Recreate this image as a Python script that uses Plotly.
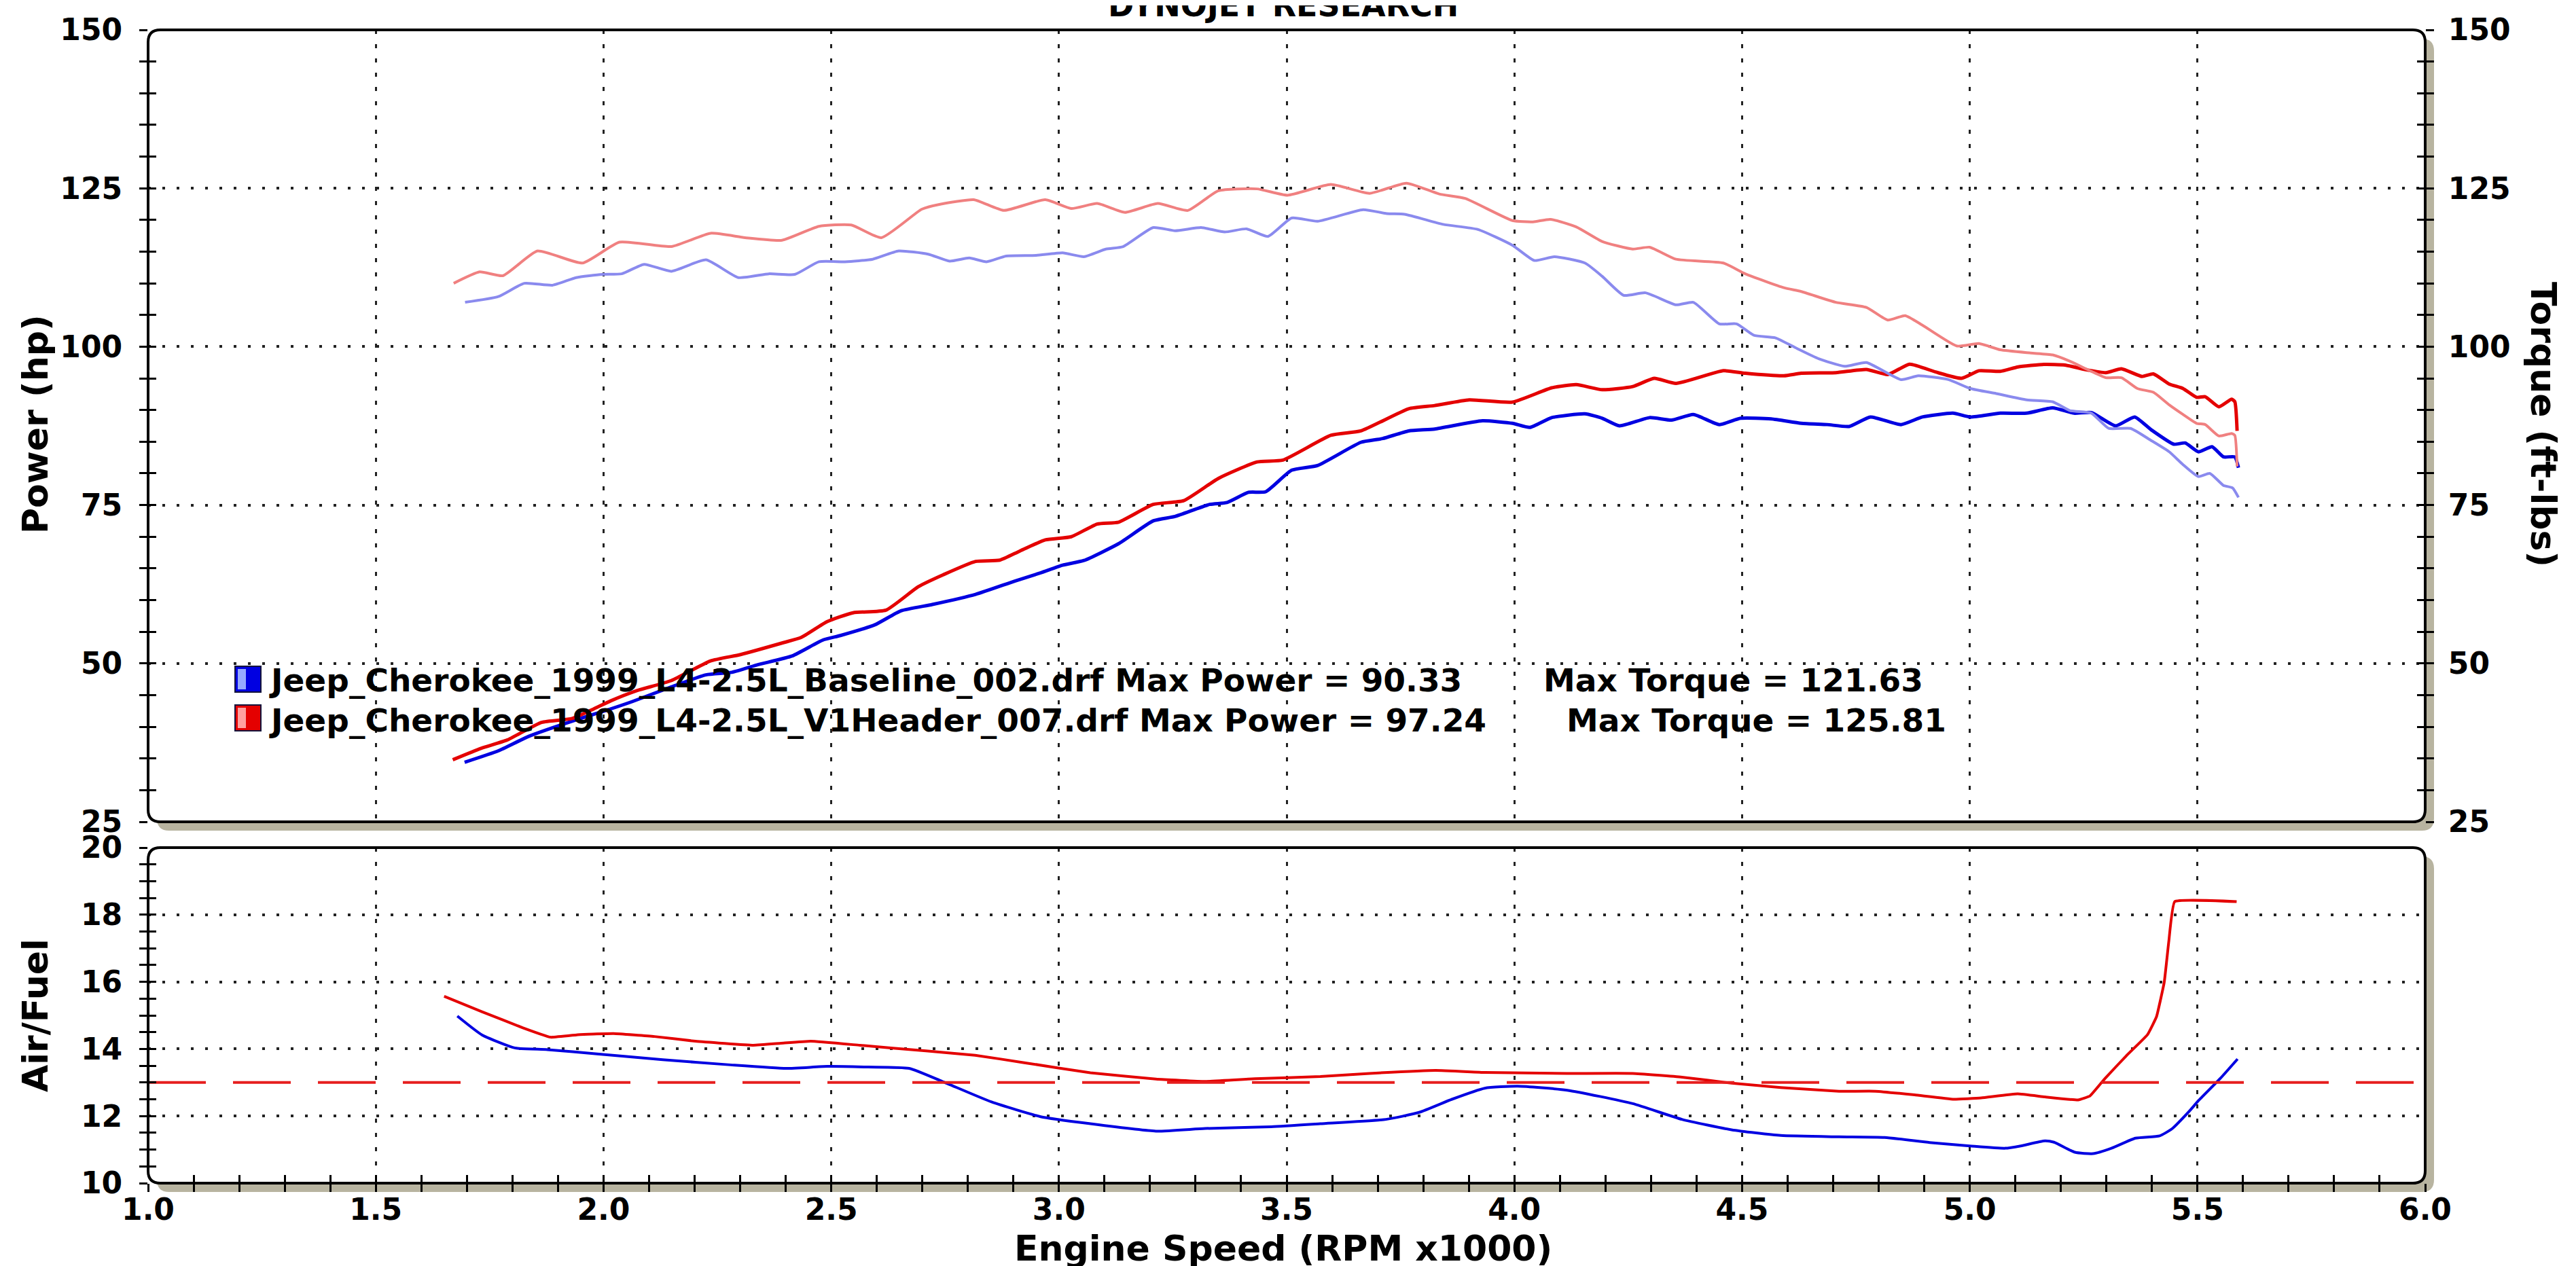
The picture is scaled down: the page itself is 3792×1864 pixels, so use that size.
import plotly.graph_objects as go

# ---------------- DATA ----------------
base_tq_rpm = [1.696, 1.769, 1.826, 1.888, 1.940, 1.997, 2.040, 2.089, 2.149, 2.225, 2.296, 2.363, 2.420,
               2.473, 2.530, 2.591, 2.648, 2.713, 2.760, 2.803, 2.841, 2.884, 2.950, 3.008, 3.055, 3.103,
               3.141, 3.207, 3.255, 3.312, 3.364, 3.412, 3.459, 3.511, 3.568, 3.668, 3.720, 3.759, 3.844,
               3.920, 3.996, 4.044, 4.088, 4.155, 4.193, 4.240, 4.288, 4.355, 4.393, 4.450, 4.488, 4.526,
               4.573, 4.621, 4.668, 4.725, 4.773, 4.849, 4.887, 4.953, 5.001, 5.058, 5.125, 5.182, 5.220,
               5.267, 5.305, 5.353, 5.398, 5.438, 5.468, 5.502, 5.527, 5.557, 5.577, 5.590]
base_tq = [107.0, 107.9, 110.0, 109.7, 110.9, 111.4, 111.5, 113.0, 111.9, 113.7, 110.9, 111.5, 111.4,
           113.4, 113.4, 113.8, 115.1, 114.6, 113.5, 114.0, 113.4, 114.3, 114.4, 114.8, 114.2, 115.4,
           115.8, 118.8, 118.3, 118.8, 118.1, 118.6, 117.4, 120.3, 119.8, 121.63, 121.0, 120.9, 119.3,
           118.5, 116.0, 113.6, 114.2, 113.2, 111.1, 108.1, 108.5, 106.6, 107.0, 103.6, 103.6, 101.8,
           101.4, 99.7, 98.1, 96.9, 97.5, 94.8, 95.4, 94.8, 93.4, 92.6, 91.6, 91.3, 89.9,
           89.5, 87.1, 87.1, 85.2, 83.4, 81.4, 79.5, 80.0, 78.1, 77.7, 76.2]

hdr_tq_rpm = [1.671, 1.728, 1.779, 1.855, 1.954, 2.035, 2.149, 2.235, 2.311, 2.392, 2.473, 2.544, 2.610,
              2.699, 2.741, 2.813, 2.879, 2.970, 3.027, 3.084, 3.145, 3.217, 3.283, 3.350, 3.435, 3.502,
              3.597, 3.682, 3.763, 3.835, 3.892, 3.996, 4.041, 4.079, 4.136, 4.193, 4.260, 4.297, 4.355,
              4.459, 4.507, 4.592, 4.630, 4.706, 4.773, 4.820, 4.858, 4.896, 4.972, 5.020, 5.067, 5.134,
              5.182, 5.220, 5.258, 5.299, 5.333, 5.368, 5.403, 5.438, 5.468, 5.498, 5.517, 5.547, 5.575,
              5.582, 5.587]
hdr_tq = [110.0, 111.8, 111.2, 115.1, 113.2, 116.5, 115.8, 117.9, 117.2, 116.8, 119.0, 119.2, 117.2,
          121.7, 122.5, 123.2, 121.5, 123.2, 121.8, 122.6, 121.2, 122.6, 121.5, 124.6, 124.9, 123.9,
          125.6, 124.2, 125.81, 124.1, 123.4, 119.9, 119.7, 120.1, 118.9, 116.6, 115.4, 115.7, 113.8,
          113.2, 111.5, 109.3, 108.7, 107.0, 106.2, 104.2, 104.9, 103.4, 100.1, 100.5, 99.5, 99.0,
          98.7, 97.7, 96.4, 95.1, 95.1, 93.4, 92.8, 90.8, 89.3, 87.9, 87.7, 85.9, 86.3,
          86.0, 81.1]

base_hp_rpm = [1.695, 1.769, 1.836, 1.940, 1.998, 2.064, 2.149, 2.225, 2.282, 2.339, 2.415, 2.482, 2.520,
               2.596, 2.653, 2.722, 2.817, 2.903, 2.960, 3.008, 3.055, 3.131, 3.207, 3.255, 3.331, 3.369,
               3.416, 3.454, 3.511, 3.568, 3.663, 3.711, 3.768, 3.825, 3.930, 3.996, 4.034, 4.082, 4.155,
               4.193, 4.231, 4.297, 4.345, 4.393, 4.450, 4.497, 4.564, 4.630, 4.687, 4.735, 4.782, 4.849,
               4.896, 4.963, 5.001, 5.067, 5.125, 5.182, 5.229, 5.267, 5.320, 5.362, 5.398, 5.448, 5.473,
               5.502, 5.532, 5.557, 5.582, 5.590]
base_hp = [34.4, 36.2, 38.5, 41.1, 42.4, 44.0, 46.3, 48.2, 48.6, 49.8, 51.2, 53.7, 54.4,
           56.1, 58.3, 59.3, 60.9, 63.0, 64.3, 65.5, 66.25, 68.9, 72.5, 73.2, 75.1, 75.4,
           77.0, 77.1, 80.5, 81.25, 84.9, 85.5, 86.7, 87.0, 88.3, 87.9, 87.25, 88.8, 89.4,
           88.7, 87.5, 88.8, 88.4, 89.3, 87.7, 88.7, 88.6, 87.9, 87.7, 87.4, 88.9, 87.7,
           88.9, 89.5, 88.9, 89.5, 89.5, 90.33, 89.5, 89.6, 87.5, 88.9, 86.9, 84.6, 84.8,
           83.4, 84.2, 82.6, 82.6, 80.9]

hdr_hp_rpm = [1.669, 1.731, 1.788, 1.864, 1.931, 1.978, 2.016, 2.073, 2.149, 2.235, 2.301, 2.396, 2.434,
              2.491, 2.548, 2.620, 2.691, 2.746, 2.817, 2.870, 2.913, 2.970, 3.027, 3.084, 3.131, 3.207,
              3.274, 3.350, 3.435, 3.492, 3.597, 3.663, 3.768, 3.825, 3.901, 3.996, 4.082, 4.136, 4.193,
              4.260, 4.307, 4.355, 4.459, 4.507, 4.592, 4.630, 4.706, 4.773, 4.820, 4.868, 4.925, 4.982,
              5.020, 5.067, 5.106, 5.163, 5.209, 5.259, 5.299, 5.333, 5.378, 5.403, 5.438, 5.468, 5.498,
              5.517, 5.547, 5.575, 5.582, 5.587]
hdr_hp = [34.8, 36.6, 37.9, 40.7, 41.3, 42.8, 44.1, 45.7, 47.3, 50.4, 51.4, 53.3, 54.1,
          56.6, 58.0, 58.4, 62.1, 64.0, 66.1, 66.3, 67.7, 69.5, 70.0, 72.0, 72.3, 75.1,
          75.7, 79.2, 81.8, 82.1, 86.0, 86.7, 90.2, 90.7, 91.6, 91.25, 93.5, 94.0, 93.2,
          93.7, 95.0, 94.2, 96.2, 95.8, 95.4, 95.8, 95.9, 96.4, 95.6, 97.24, 96.0, 95.0,
          96.2, 96.1, 96.8, 97.2, 97.1, 96.3, 95.9, 96.5, 95.3, 95.7, 94.1, 93.4, 92.0,
          92.1, 90.5, 91.7, 91.3, 86.7]

base_afr_rpm = [1.679, 1.733, 1.805, 1.877, 1.986, 2.130, 2.274, 2.401, 2.491, 2.581, 2.671, 2.744, 2.852,
                2.960, 3.069, 3.213, 3.321, 3.466, 3.574, 3.718, 3.791, 3.863, 3.935, 4.007, 4.116, 4.260,
                4.368, 4.477, 4.585, 4.713, 4.813, 4.912, 5.000, 5.078, 5.112, 5.165, 5.185, 5.231, 5.271,
                5.311, 5.364, 5.417, 5.444, 5.483, 5.503, 5.550, 5.588]
base_afr = [14.98, 14.42, 14.03, 13.98, 13.85, 13.68, 13.53, 13.42, 13.48, 13.46, 13.42, 13.03, 12.42,
            11.98, 11.77, 11.55, 11.63, 11.68, 11.77, 11.90, 12.11, 12.50, 12.83, 12.89, 12.77, 12.37,
            11.90, 11.59, 11.42, 11.38, 11.36, 11.21, 11.11, 11.04, 11.11, 11.26, 11.22, 10.92, 10.88,
            11.04, 11.34, 11.41, 11.62, 12.16, 12.47, 13.12, 13.70]

hdr_afr_rpm = [1.650, 1.733, 1.823, 1.884, 1.949, 2.022, 2.112, 2.202, 2.329, 2.390, 2.455, 2.563, 2.708,
               2.816, 2.924, 3.069, 3.213, 3.321, 3.430, 3.574, 3.682, 3.827, 3.935, 4.116, 4.260, 4.368,
               4.477, 4.585, 4.713, 4.793, 4.879, 4.965, 5.025, 5.105, 5.165, 5.238, 5.264, 5.297, 5.344,
               5.390, 5.410, 5.427, 5.437, 5.450, 5.586]
hdr_afr = [15.57, 15.11, 14.63, 14.35, 14.43, 14.46, 14.37, 14.23, 14.11, 14.17, 14.23, 14.11, 13.94,
           13.81, 13.59, 13.29, 13.10, 13.03, 13.11, 13.18, 13.27, 13.36, 13.30, 13.27, 13.27, 13.16,
           12.98, 12.85, 12.74, 12.74, 12.63, 12.50, 12.54, 12.66, 12.57, 12.48, 12.60, 13.12, 13.80,
           14.42, 14.96, 15.99, 17.20, 18.39, 18.39]

afr_target = 13.0
rpm_range = [1.0, 6.0]
power_range = [25, 150]
afr_range = [10, 20]

legend_rows = [
    ("Jeep_Cherokee_1999_L4-2.5L_Baseline_002.drf", "90.33", "121.63"),
    ("Jeep_Cherokee_1999_L4-2.5L_V1Header_007.drf", "97.24", "125.81"),
]

# ---------------- STYLE ----------------
W, H = 3792, 1864
ML, MR, MT, MB = 210, 230, 36, 130
PW, PH = W - ML - MR, H - MT - MB
TOP_BOTTOM_PX = 1202
BOT_TOP_PX = 1240

def py(pix):
    return (H - MB - pix) / PH

def px(pix):
    return (pix - ML) / PW

top_dom = [py(TOP_BOTTOM_PX), 1.0]
bot_dom = [0.0, py(BOT_TOP_PX)]

FONT = "DejaVu Sans"
C_RED = "rgb(228,0,0)"
C_BLUE = "rgb(0,0,225)"
C_RED_L = "rgb(240,128,128)"
C_BLUE_L = "rgb(138,138,238)"

fig = go.Figure()

fig.add_trace(go.Scatter(x=base_tq_rpm, y=base_tq, xaxis="x", yaxis="y3", mode="lines",
                         line=dict(color=C_BLUE_L, width=4, shape="spline", smoothing=0.5),
                         showlegend=False, hoverinfo="skip"))
fig.add_trace(go.Scatter(x=hdr_tq_rpm, y=hdr_tq, xaxis="x", yaxis="y3", mode="lines",
                         line=dict(color=C_RED_L, width=4, shape="spline", smoothing=0.5),
                         showlegend=False, hoverinfo="skip"))
fig.add_trace(go.Scatter(x=base_hp_rpm, y=base_hp, xaxis="x", yaxis="y", mode="lines",
                         line=dict(color=C_BLUE, width=5, shape="spline", smoothing=0.5),
                         showlegend=False, hoverinfo="skip"))
fig.add_trace(go.Scatter(x=hdr_hp_rpm, y=hdr_hp, xaxis="x", yaxis="y", mode="lines",
                         line=dict(color=C_RED, width=5, shape="spline", smoothing=0.5),
                         showlegend=False, hoverinfo="skip"))
fig.add_trace(go.Scatter(x=base_afr_rpm, y=base_afr, xaxis="x2", yaxis="y2", mode="lines",
                         line=dict(color=C_BLUE, width=4, shape="spline", smoothing=0.5),
                         showlegend=False, hoverinfo="skip"))
fig.add_trace(go.Scatter(x=hdr_afr_rpm, y=hdr_afr, xaxis="x2", yaxis="y2", mode="lines",
                         line=dict(color=C_RED, width=4, shape="spline", smoothing=0.3),
                         showlegend=False, hoverinfo="skip"))
fig.add_trace(go.Scatter(x=rpm_range, y=[afr_target, afr_target], xaxis="x2", yaxis="y2", mode="lines",
                         line=dict(color="rgb(230,30,30)", width=4, dash="85px,40px"),
                         showlegend=False, hoverinfo="skip"))
# empty traces so the overlay tick axes are drawn
for xa, ya in [("x", "y4"), ("x", "y5"), ("x2", "y6"), ("x3", "y2")]:
    fig.add_trace(go.Scatter(x=[], y=[], xaxis=xa, yaxis=ya, showlegend=False, hoverinfo="skip"))

tickfont = dict(family=FONT, size=44, color="black", weight="bold")
TL, TW = 12, 3

def grid_y(dtick, minor_dtick, rng, dom, side="left", labels=True, inside=False, grid=True, anchor="x",
           overlaying=None, standoff=16):
    d = dict(range=rng, dtick=dtick, tick0=rng[0], side=side, anchor=anchor,
             ticks="inside" if inside else "outside", ticklen=TL, tickwidth=TW, tickcolor="black",
             minor=dict(dtick=minor_dtick, tick0=rng[0], ticks="inside" if inside else "outside",
                        ticklen=TL, tickwidth=TW, tickcolor="black", showgrid=False),
             showticklabels=labels, tickfont=tickfont, ticklabelstandoff=standoff,
             showline=False, zeroline=False,
             showgrid=grid, gridcolor="#222222", gridwidth=4, griddash="4px,17px", fixedrange=True)
    if overlaying:
        d["overlaying"] = overlaying
    else:
        d["domain"] = dom
    return d

fig.update_layout(
    width=W, height=H,
    margin=dict(l=ML, r=MR, t=MT, b=MB, autoexpand=False),
    paper_bgcolor="white", plot_bgcolor="rgba(0,0,0,0)",
    showlegend=False,
    xaxis=dict(domain=[0, 1], range=rpm_range, anchor="y", dtick=0.5, tick0=1.0,
               showticklabels=False, ticks="", showline=False, zeroline=False,
               showgrid=True, gridcolor="#222222", gridwidth=3, griddash="6px,15px"),
    xaxis2=dict(domain=[0, 1], range=rpm_range, anchor="y2", dtick=0.5, tick0=1.0,
                ticks="outside", ticklen=TL, tickwidth=TW, tickcolor="black",
                minor=dict(dtick=0.1, tick0=1.0, ticks="outside", ticklen=TL, tickwidth=TW,
                           tickcolor="black", showgrid=False),
                tickformat=".1f", tickfont=tickfont, ticklabelstandoff=-12,
                showline=False, zeroline=False,
                showgrid=True, gridcolor="#222222", gridwidth=3, griddash="6px,15px"),
    xaxis3=dict(overlaying="x2", anchor="y2", side="bottom", range=rpm_range, dtick=0.5, tick0=1.0,
                ticks="inside", ticklen=TL, tickwidth=TW, tickcolor="black",
                minor=dict(dtick=0.1, tick0=1.0, ticks="inside", ticklen=TL, tickwidth=TW,
                           tickcolor="black", showgrid=False),
                showticklabels=False, showline=False, zeroline=False, showgrid=False),
    yaxis=grid_y(25, 5, power_range, top_dom),
    yaxis2=grid_y(2, 0.5, afr_range, bot_dom, anchor="x2"),
    yaxis3=grid_y(25, 5, power_range, top_dom, side="right", grid=False, overlaying="y", standoff=12),
    yaxis4=grid_y(25, 5, power_range, top_dom, labels=False, inside=True, grid=False, overlaying="y"),
    yaxis5=grid_y(25, 5, power_range, top_dom, side="right", labels=False, inside=True, grid=False,
                  overlaying="y"),
    yaxis6=grid_y(2, 0.5, afr_range, bot_dom, labels=False, inside=True, grid=False, anchor="x2",
                  overlaying="y2"),
)


# ---------------- FRAMES ----------------
def rrect(x0, y0, x1, y1, r=18):
    rx, ry = r / PW, r / PH
    return (f"M {x0+rx},{y0} L {x1-rx},{y0} Q {x1},{y0} {x1},{y0+ry} L {x1},{y1-ry} "
            f"Q {x1},{y1} {x1-rx},{y1} L {x0+rx},{y1} Q {x0},{y1} {x0},{y1-ry} "
            f"L {x0},{y0+ry} Q {x0},{y0} {x0+rx},{y0} Z")

shapes = []
SH = 13
for dom in (top_dom, bot_dom):
    shapes.append(dict(type="path", xref="paper", yref="paper", layer="below",
                       path=rrect(0 + SH / PW, dom[0] - SH / PH, 1 + SH / PW, dom[1] - SH / PH),
                       fillcolor="rgb(184,180,160)", line=dict(width=0)))
    shapes.append(dict(type="path", xref="paper", yref="paper", layer="below",
                       path=rrect(0, dom[0], 1, dom[1]),
                       fillcolor="white", line=dict(width=0)))
    shapes.append(dict(type="path", xref="paper", yref="paper", layer="above",
                       path=rrect(0, dom[0], 1, dom[1]),
                       fillcolor="rgba(0,0,0,0)", line=dict(color="black", width=4)))

# legend swatches
sw_cols = [(C_BLUE, "rgb(150,170,255)", 973, 1011), (C_RED, "rgb(255,160,160)", 1030, 1068)]
for col, light, t, b in sw_cols:
    shapes.append(dict(type="rect", xref="paper", yref="paper", layer="above",
                       x0=px(338), x1=px(376), y0=py(b), y1=py(t),
                       fillcolor=col, line=dict(color="rgb(20,20,60)", width=2)))
    shapes.append(dict(type="rect", xref="paper", yref="paper", layer="above",
                       x0=px(342), x1=px(354), y0=py(b - 4), y1=py(t + 4),
                       fillcolor=light, line=dict(width=0)))
fig.update_layout(shapes=shapes)

# ---------------- TEXT ----------------
bold = lambda s: dict(family=FONT, size=s, color="black", weight="bold")
ann = []
ann.append(dict(text="DYNOJET RESEARCH", xref="paper", yref="paper", x=px(1881), y=py(0),
                xanchor="center", yanchor="middle", showarrow=False, font=bold(46)))
ann.append(dict(text="Power (hp)", xref="paper", yref="paper", x=px(44), y=py(617), textangle=-90,
                xanchor="center", yanchor="middle", showarrow=False, font=bold(52)))
ann.append(dict(text="Torque (ft-lbs)", xref="paper", yref="paper", x=px(3736), y=py(617), textangle=90,
                xanchor="center", yanchor="middle", showarrow=False, font=bold(52)))
ann.append(dict(text="Air/Fuel", xref="paper", yref="paper", x=px(44), y=py(1487), textangle=-90,
                xanchor="center", yanchor="middle", showarrow=False, font=bold(52)))
ann.append(dict(text="Engine Speed (RPM x1000)", xref="paper", yref="paper", x=px(1881), y=py(1830),
                xanchor="center", yanchor="middle", showarrow=False, font=bold(52)))
row_y = [993, 1052]
torque_x = [2262, 2296]
for (name, hp, tq), yy, tx in zip(legend_rows, row_y, torque_x):
    ann.append(dict(text=f"{name} Max Power = {hp}", xref="paper", yref="paper", x=px(386), y=py(yy),
                    xanchor="left", yanchor="middle", showarrow=False, font=bold(47)))
    ann.append(dict(text=f"Max Torque = {tq}", xref="paper", yref="paper", x=px(tx), y=py(yy),
                    xanchor="left", yanchor="middle", showarrow=False, font=bold(47)))
fig.update_layout(annotations=ann)

fig.write_html("out.html")
